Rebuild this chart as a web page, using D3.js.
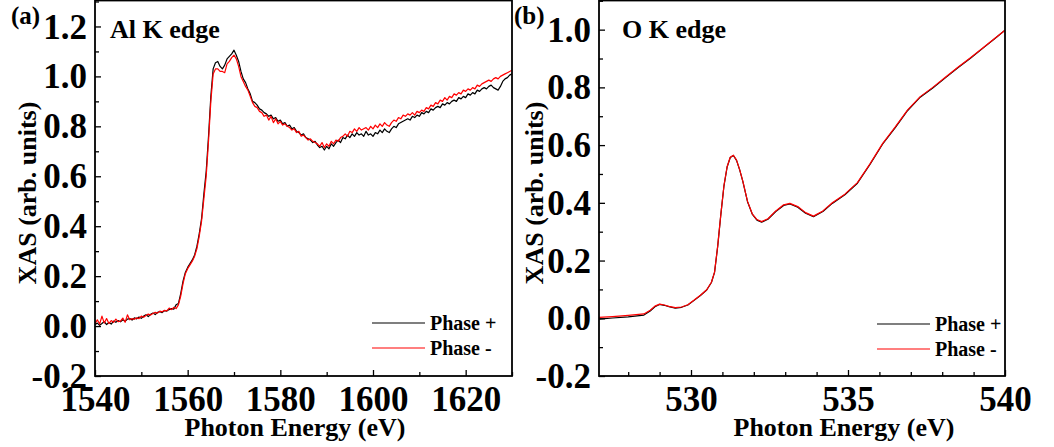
<!DOCTYPE html>
<html>
<head>
<meta charset="utf-8">
<script src="https://cdn.jsdelivr.net/npm/d3@7"></script>
<style>
  html, body { margin: 0; padding: 0; background: #fff; }
  svg { display: block; }
  text { font-family: "Liberation Serif", "Times New Roman", serif; font-weight: bold; fill: #000; }
</style>
</head>
<body>
<svg id="chart" width="1054" height="447"></svg>
<script>
// ---------------- DATA ----------------
// Panel (a): Al K edge, sampled every 0.5 eV from 1540 eV
const alEnergyStart = 1540;
const alEnergyStep = 0.5;
const alPhasePlus = [
  0.005,0.012,0.003,0.010,0.018,0.006,0.014,0.008,0.020,0.015,0.022,0.017,0.025,0.019,0.028,0.030,0.024,0.033,0.029,0.036,
  0.031,0.040,0.045,0.038,0.047,0.052,0.046,0.055,0.058,0.054,0.062,0.060,0.066,0.070,0.068,0.085,0.090,0.130,0.180,0.215,
  0.235,0.250,0.265,0.285,0.320,0.370,0.430,0.530,0.620,0.760,0.920,1.030,1.055,1.060,1.040,1.030,1.045,1.070,1.080,1.090,
  1.105,1.085,1.060,1.020,0.990,0.975,0.950,0.930,0.900,0.895,0.885,0.870,0.865,0.855,0.850,0.840,0.845,0.830,0.835,0.820,
  0.825,0.810,0.815,0.800,0.805,0.790,0.795,0.780,0.775,0.765,0.770,0.755,0.750,0.745,0.735,0.740,0.725,0.715,0.720,0.705,
  0.720,0.710,0.730,0.720,0.735,0.745,0.735,0.755,0.750,0.765,0.755,0.770,0.760,0.775,0.765,0.770,0.760,0.780,0.765,0.770,
  0.760,0.775,0.770,0.785,0.775,0.790,0.780,0.775,0.790,0.800,0.795,0.810,0.815,0.820,0.825,0.830,0.825,0.840,0.835,0.845,
  0.840,0.855,0.850,0.860,0.855,0.870,0.865,0.875,0.880,0.875,0.890,0.885,0.895,0.890,0.900,0.905,0.900,0.915,0.910,0.920,
  0.915,0.930,0.925,0.935,0.930,0.945,0.940,0.950,0.955,0.950,0.960,0.965,0.955,0.950,0.945,0.960,0.980,0.990,0.995,1.005,
  1.010
];
const alPhaseMinus = [
  0.010,0.025,0.008,0.040,0.012,0.030,0.010,0.022,0.015,0.028,0.018,0.020,0.032,0.015,0.045,0.025,0.030,0.027,0.033,0.030,
  0.040,0.035,0.042,0.048,0.044,0.050,0.055,0.052,0.060,0.057,0.063,0.061,0.072,0.066,0.075,0.070,0.085,0.120,0.170,0.210,
  0.230,0.245,0.260,0.280,0.310,0.360,0.420,0.510,0.600,0.740,0.900,1.010,1.030,1.030,1.020,1.020,1.015,1.050,1.060,1.075,
  1.085,1.070,1.040,1.000,0.980,0.960,0.945,0.920,0.895,0.880,0.875,0.860,0.855,0.840,0.845,0.825,0.840,0.815,0.830,0.810,
  0.820,0.805,0.810,0.800,0.795,0.785,0.790,0.775,0.780,0.760,0.765,0.755,0.745,0.750,0.740,0.735,0.730,0.720,0.735,0.715,
  0.730,0.720,0.740,0.730,0.745,0.740,0.755,0.760,0.770,0.760,0.780,0.775,0.790,0.780,0.795,0.785,0.790,0.795,0.785,0.800,
  0.790,0.805,0.795,0.810,0.800,0.815,0.805,0.800,0.815,0.825,0.820,0.835,0.830,0.845,0.840,0.850,0.845,0.855,0.845,0.860,
  0.855,0.865,0.860,0.875,0.870,0.885,0.880,0.895,0.890,0.905,0.900,0.915,0.905,0.920,0.915,0.930,0.925,0.935,0.930,0.945,
  0.940,0.950,0.945,0.955,0.950,0.965,0.960,0.970,0.975,0.980,0.985,0.980,0.990,0.995,0.990,1.000,1.005,1.010,1.015,1.020,
  1.025
];

// Panel (b): O K edge
const oEnergy = [527.07,527.5,528.0,528.5,528.7,528.85,529.0,529.15,529.3,529.5,529.7,529.9,530.1,530.3,530.5,530.65,
  530.75,530.85,530.95,531.05,531.15,531.25,531.35,531.45,531.55,531.65,531.8,531.95,532.1,532.25,532.45,532.7,532.95,
  533.15,533.4,533.65,533.9,534.2,534.5,534.9,535.3,535.7,536.1,536.5,536.9,537.3,537.7,538.1,538.5,538.9,539.3,539.7,540.0];
const oPhasePlus = [-0.003,0.001,0.005,0.011,0.025,0.040,0.048,0.045,0.040,0.035,0.038,0.046,0.062,0.079,0.098,0.124,
  0.159,0.249,0.359,0.459,0.524,0.557,0.564,0.547,0.514,0.474,0.404,0.361,0.340,0.333,0.343,0.370,0.391,
  0.396,0.385,0.364,0.352,0.370,0.398,0.428,0.468,0.533,0.603,0.660,0.720,0.766,0.798,0.833,0.868,0.901,0.936,0.971,0.998];
const oPhaseMinus = [0.003,0.006,0.010,0.015,0.028,0.042,0.049,0.046,0.041,0.037,0.039,0.047,0.063,0.080,0.099,0.125,
  0.160,0.250,0.360,0.460,0.525,0.558,0.565,0.548,0.515,0.475,0.405,0.362,0.342,0.335,0.345,0.372,0.393,
  0.398,0.387,0.366,0.354,0.372,0.400,0.430,0.470,0.535,0.605,0.662,0.722,0.768,0.800,0.835,0.870,0.903,0.937,0.972,0.998];

const seriesNames = ["Phase +", "Phase -"];
const seriesColors = ["#000000", "#ff0000"];
const alXTicks = [1540, 1560, 1580, 1600, 1620];
const oXTicks = [530, 535, 540];
const yTicksA = [-0.2, 0.0, 0.2, 0.4, 0.6, 0.8, 1.0, 1.2];
const yTicksB = [-0.2, 0.0, 0.2, 0.4, 0.6, 0.8, 1.0];

// ---------------- DRAW ----------------
const svg = d3.select("#chart");
const alEnergy = alPhasePlus.map((_, i) => alEnergyStart + i * alEnergyStep);
const yFmt = (v) => d3.format(".1f")(v).replace("\u2212", "-");

function panel(cfg) {
  const { left, right, top, bottom, xDomain, yDomain, xTicks, xMinorStep, yTicks,
          energy, plus, minus, letter, letterX, title, titleX, yTitleX, xTitleX, legendX, legendY, clipId } = cfg;
  const x = d3.scaleLinear().domain(xDomain).range([left, right]);
  const y = d3.scaleLinear().domain(yDomain).range([bottom, top]);
  const g = svg.append("g");

  g.append("clipPath").attr("id", clipId).append("rect")
    .attr("x", left).attr("y", top).attr("width", right - left).attr("height", bottom - top);

  const line = d3.line().x((d) => x(d[0])).y((d) => y(d[1]));
  [plus, minus].forEach((vals, k) => {
    g.append("path")
      .datum(energy.map((e, i) => [e, vals[i]]))
      .attr("clip-path", `url(#${clipId})`)
      .attr("fill", "none")
      .attr("stroke", seriesColors[k])
      .attr("stroke-width", 1.2)
      .attr("stroke-linejoin", "round")
      .attr("d", line);
  });

  // minor ticks
  const xMinor = d3.range(Math.ceil(xDomain[0] / xMinorStep) * xMinorStep, xDomain[1] + 1e-9, xMinorStep)
    .filter((v) => !xTicks.some((t) => Math.abs(t - v) < 1e-6));
  const yMinor = d3.range(-0.1, yDomain[1], 0.2);

  const xAxisMinor = g.append("g").attr("transform", `translate(0,${bottom})`)
    .call(d3.axisBottom(x).tickValues(xMinor).tickSize(-4).tickFormat(""));
  const xAxis = g.append("g").attr("transform", `translate(0,${bottom})`)
    .call(d3.axisBottom(x).tickValues(xTicks).tickSize(-6).tickFormat(d3.format("d")));
  xAxis.selectAll("text").attr("y", 35).attr("dy", null).style("font-size", "35px");

  const yAxisMinor = g.append("g").attr("transform", `translate(${left},0)`)
    .call(d3.axisLeft(y).tickValues(yMinor).tickSize(-4).tickFormat(""));
  const yAxis = g.append("g").attr("transform", `translate(${left},0)`)
    .call(d3.axisLeft(y).tickValues(yTicks).tickSize(-6).tickFormat(yFmt));
  yAxis.selectAll("text").attr("x", -8).attr("dy", "0.33em").style("font-size", "35px");

  [xAxisMinor, xAxis, yAxisMinor, yAxis].forEach((a) => {
    a.selectAll(".domain").remove();
    a.selectAll("line").attr("stroke", "#000").attr("stroke-width", 1.3);
  });

  g.append("rect").attr("x", left).attr("y", top).attr("width", right - left).attr("height", bottom - top)
    .attr("fill", "none").attr("stroke", "#000").attr("stroke-width", 1.8);

  g.append("text").attr("x", letterX).attr("y", 24).style("font-size", "25px").text(letter);
  g.append("text").attr("x", titleX).attr("y", 38).style("font-size", "26px").text(title);
  g.append("text").attr("x", xTitleX).attr("y", 436).attr("text-anchor", "middle")
    .style("font-size", "26px").text("Photon Energy (eV)");
  g.append("text").attr("transform", `translate(${yTitleX},193) rotate(-90)`).attr("text-anchor", "middle")
    .style("font-size", "26px").text("XAS (arb. units)");

  seriesNames.forEach((name, k) => {
    const ly = legendY + k * 25;
    g.append("line").attr("x1", legendX).attr("x2", legendX + 53).attr("y1", ly).attr("y2", ly)
      .attr("stroke", seriesColors[k]).attr("stroke-width", 1.2);
    g.append("text").attr("x", legendX + 58).attr("y", ly + 7).style("font-size", "20px").text(name);
  });
}

panel({
  left: 95, right: 512, top: 0.5, bottom: 376,
  xDomain: [1540, 1630], yDomain: [-0.2, 1.304],
  xTicks: alXTicks, xMinorStep: 10, yTicks: yTicksA,
  energy: alEnergy, plus: alPhasePlus, minus: alPhaseMinus,
  letter: "(a)", letterX: 11, title: "Al K edge", titleX: 110,
  yTitleX: 36, xTitleX: 295, legendX: 372, legendY: 323, clipId: "clipA"
});

panel({
  left: 599, right: 1005, top: 0.5, bottom: 376,
  xDomain: [527.07, 540], yDomain: [-0.2, 1.101],
  xTicks: oXTicks, xMinorStep: 1, yTicks: yTicksB,
  energy: oEnergy, plus: oPhasePlus, minus: oPhaseMinus,
  letter: "(b)", letterX: 514, title: "O K edge", titleX: 622,
  yTitleX: 543, xTitleX: 844, legendX: 877, legendY: 324, clipId: "clipB"
});
</script>
</body>
</html>
